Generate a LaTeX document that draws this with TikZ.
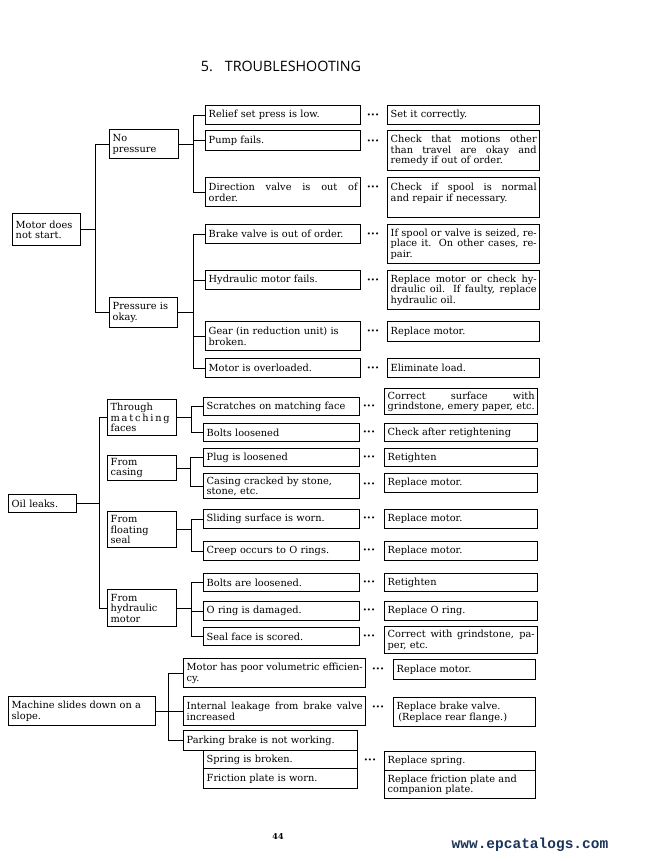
\documentclass[tikz,border=0pt]{standalone}
\usepackage{fontspec}
\setmainfont{DejaVu Serif}
\newfontfamily\titlefont{Open Sans}
\newfontfamily\urlfont{Liberation Mono}
\usepackage{xcolor}
\usepackage{tikz}
\usetikzlibrary{positioning}
\definecolor{urlblue}{RGB}{26,52,90}
\newcommand{\treefont}{\fontsize{9.8}{10.5}\selectfont}
% a line spread over the whole box, as the print does
\newcommand{\fillline}[1]{{\spaceskip=0pt\xspaceskip=0pt\makebox[\hsize][s]{#1}}}
\tikzset{
    box/.style={rectangle, draw=black, line width=1.4pt, anchor=north west, inner xsep=3pt, inner ysep=1pt, align=left, text width=#1pt, font=\treefont},
    box/.default=149,
    link/.style={line width=1.2pt},
    dots/.style={inner sep=0pt, font=\fontsize{7}{7}\selectfont}
}

\begin{document}
\begin{tikzpicture}[x=1pt, y=-1pt]
    \fill[white] (0,0) rectangle (662,861);
    \useasboundingbox (0,0) rectangle (662,861);

    \node (title) at (281,66) {\titlefont\fontsize{14.3}{14.3}\selectfont 5.\hspace{12pt}TROUBLESHOOTING};

    % motor does not start
    \node[box=62, minimum height=32] (motor) at (12,213) {Motor does\\not start.};
    \node[box=63, minimum height=29] (nopress) at (109,129) {No\\pressure};
    \node[box=62, minimum height=30] (pressok) at (109,297) {Pressure is\\okay.};

    \node[box, minimum height=19] (relief) at (205,105) {Relief set press is low.};
    \node[box, minimum height=20] (pump) at (205,130) {Pump fails.};
    \node[box, minimum height=29] (dirvalve) at (205,177) {\fillline{Direction valve is out of}\\order.};
    \node[box, minimum height=19] (brake) at (205,224) {Brake valve is out of order.};
    \node[box, minimum height=19] (hydmotor) at (205,270) {Hydraulic motor fails.};
    \node[box, minimum height=29] (gear) at (205,321) {Gear (in reduction unit) is\\broken.};
    \node[box, minimum height=19] (overload) at (205,358) {Motor is overloaded.};

    \node[box=146, minimum height=19] (setit) at (387,105) {Set it correctly.};
    \node[box=146, minimum height=40] (checkmot) at (387,130) {\fillline{Check that motions other}\\\fillline{than travel are okay and}\\remedy if out of order.};
    \node[box=146, minimum height=40] (checkspool) at (387,177) {\fillline{Check if spool is normal}\\and repair if necessary.\\~};
    \node[box=146, minimum height=39] (seized) at (387,224) {\fillline{If spool or valve is seized, re-}\\\fillline{place it. On other cases, re-}\\pair.};
    \node[box=146, minimum height=39] (replcheck) at (387,270) {\fillline{Replace motor or check hy-}\\\fillline{draulic oil. If faulty, replace}\\hydraulic oil.};
    \node[box=146, minimum height=20] (replmot1) at (387,321) {Replace motor.};
    \node[box=146, minimum height=19] (elim) at (387,358) {Eliminate load.};

    \draw[link] (motor.east) -- ++(14,0) coordinate (jmotor);
    \draw[link] (nopress.west) -| (jmotor);
    \draw[link] (pressok.west) -| (jmotor);
    \draw[link] (nopress.east) -- ++(14,0) coordinate (jnopress);
    \foreach \n in {relief,pump,dirvalve}
        \draw[link] (\n.west) -| (jnopress);
    \draw[link] (pressok.east) -- ++(15,0) coordinate (jpressok);
    \foreach \n in {brake,hydmotor,gear,overload}
        \draw[link] (\n.west) -| (jpressok);

    % oil leaks
    \node[box=62, minimum height=18] (oil) at (8,494) {Oil leaks.};
    \node[box=63, minimum height=36] (through) at (107,399) {Through\\{\addfontfeature{LetterSpace=18}matching}\\faces};
    \node[box=63, minimum height=25] (casing) at (107,455) {From\\casing};
    \node[box=63, minimum height=36] (floating) at (107,511) {From\\floating\\seal};
    \node[box=63, minimum height=37] (hydraulic) at (107,589) {From\\hydraulic\\motor};

    \node[box=150, minimum height=18] (scratch) at (203,397) {Scratches on matching face};
    \node[box=150, minimum height=18] (boltsl) at (203,423) {Bolts loosened};
    \node[box=150, minimum height=18] (plug) at (203,448) {Plug is loosened};
    \node[box=150, minimum height=25] (cracked) at (203,473) {Casing cracked by stone,\\stone, etc.};
    \node[box=150, minimum height=19] (sliding) at (203,509) {Sliding surface is worn.};
    \node[box=150, minimum height=19] (creep) at (203,541) {Creep occurs to O rings.};
    \node[box=150, minimum height=18] (boltsare) at (203,573) {Bolts are loosened.};
    \node[box=150, minimum height=19] (oring) at (203,601) {O ring is damaged.};
    \node[box=150, minimum height=18] (sealface) at (203,627) {Seal face is scored.};

    \node[box=147, minimum height=26] (corrsurf) at (384,388) {\fillline{Correct surface with}\\grindstone, emery paper, etc.};
    \node[box=147, minimum height=18] (checkafter) at (384,423) {Check after retightening};
    \node[box=147, minimum height=18] (retight1) at (384,448) {Retighten};
    \node[box=147, minimum height=19] (replmot2) at (384,473) {Replace motor.};
    \node[box=147, minimum height=19] (replmot3) at (384,509) {Replace motor.};
    \node[box=147, minimum height=19] (replmot4) at (384,541) {Replace motor.};
    \node[box=147, minimum height=18] (retight2) at (384,573) {Retighten};
    \node[box=147, minimum height=19] (replo) at (384,601) {Replace O ring.};
    \node[box=147, minimum height=27] (corrgrind) at (384,626) {\fillline{Correct with grindstone, pa-}\\per, etc.};

    \draw[link] (oil.east) -- ++(22,0) coordinate (joil);
    \draw[link] (through.west) -| (joil);
    \draw[link] (hydraulic.west) -| (joil);
    \draw[link] (through.east) -- ++(14,0) coordinate (jthrough);
    \foreach \n in {scratch,boltsl}
        \draw[link] (\n.west) -| (jthrough);
    \draw[link] (casing.east) -- ++(13,0) coordinate (jcasing);
    \foreach \n in {plug,cracked}
        \draw[link] (\n.west) -| (jcasing);
    \draw[link] (floating.east) -- ++(14,0) coordinate (jfloating);
    \foreach \n in {sliding,creep}
        \draw[link] (\n.west) -| (jfloating);
    \draw[link] (hydraulic.east) -- ++(14,0) coordinate (jhydraulic);
    \foreach \n in {boltsare,oring,sealface}
        \draw[link] (\n.west) -| (jhydraulic);

    % machine slides down
    \node[box=141, minimum height=29] (machine) at (8,696) {Machine slides down on a\\slope.};
    \node[box=176, minimum height=29] (poorvol) at (183,658) {\fillline{Motor has poor volumetric efficien-}\\cy.};
    \node[box=176, minimum height=29] (leakage) at (183,696) {\fillline{Internal leakage from brake valve}\\increased};
    \node[box=168, minimum height=20] (parking) at (183,730) {Parking brake is not working.};
    \node[box=148, minimum height=18] (spring) at (203,750) {Spring is broken.};
    \node[box=148, minimum height=20] (friction) at (203,768) {Friction plate is worn.};

    \node[box=136, minimum height=20] (replmot5) at (393,659) {Replace motor.};
    \node[box=136, minimum height=29] (replbrake) at (393,697) {Replace brake valve.\\\,(Replace rear flange.)};
    \node[box=145, minimum height=19] (replspring) at (384,751) {Replace spring.};
    \node[box=145, minimum height=28] (replfric) at (384,770) {Replace friction plate and\\companion plate.};

    \draw[link] (machine.east) -- ++(12,0) coordinate (jmachine);
    \foreach \n in {poorvol,leakage,parking}
        \draw[link] (\n.west) -| (jmachine);

    % dots between cause and remedy
    \foreach \x/\y [count=\i] in {373/116, 373/142, 373/188, 373/235, 373/281, 373/332, 373/369,
        369/407, 369/433, 369/458, 369/485, 369/519, 369/551, 369/583, 369/611, 369/637,
        378/670, 378/708, 370/761}
        \node[dots] (dots\i) at (\x,\y) {\textbullet\textbullet\textbullet};

    \node (pagenum) at (278,837) {\bfseries\fontsize{8}{8}\selectfont 44};
    \node[text=urlblue] (url) at (530,845) {\urlfont\bfseries\fontsize{14.5}{14.5}\selectfont www.epcatalogs.com};
\end{tikzpicture}
\end{document}
